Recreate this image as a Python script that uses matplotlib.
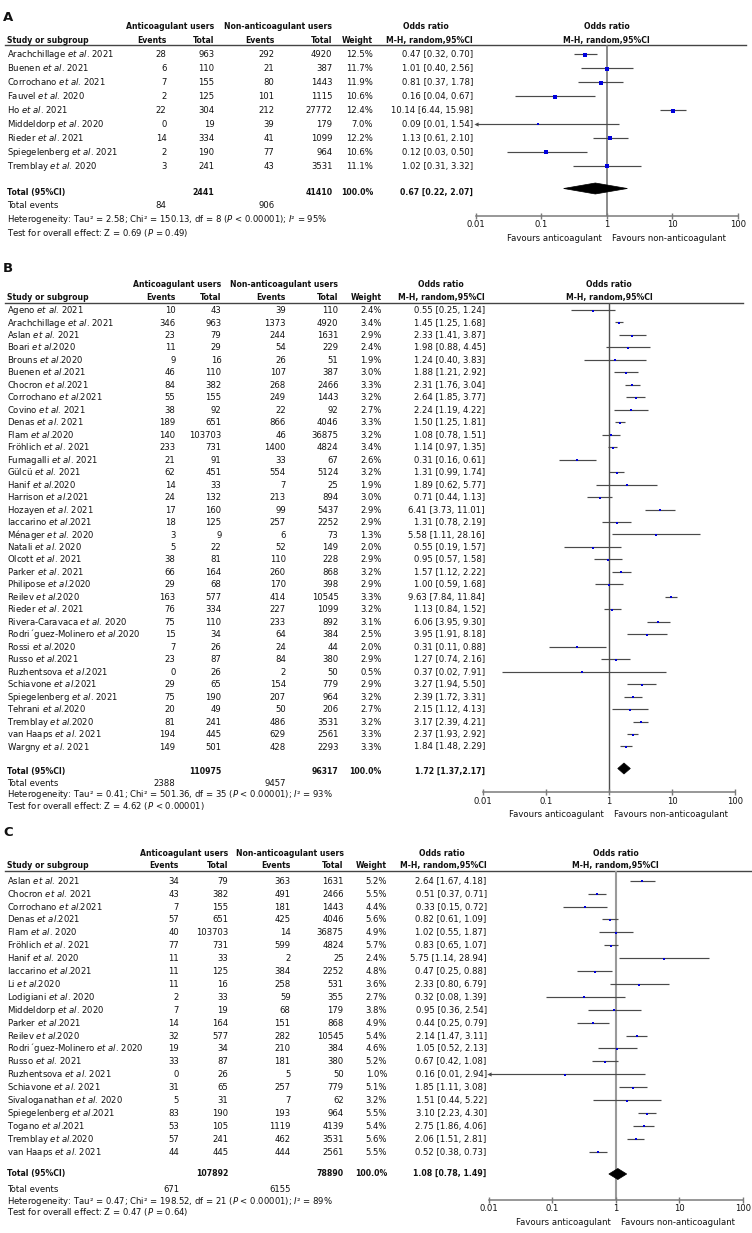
import numpy as np
import matplotlib
matplotlib.use("Agg")
import matplotlib.pyplot as plt
from matplotlib.patches import Polygon
from matplotlib.ticker import NullLocator

plt.rcParams['font.family'] = ['DejaVu Sans']
plt.rcParams['mathtext.fontset'] = 'dejavusans'

W, H = 752, 1233
FS = 6.1
FSB = 5.6
GRAY = '#7a7a7a'
LINE = '#4a4a4a'
BLUE = '#0000dd'

# ---------------- Panel A data ----------------
A_study = ["Arachchillage et al. 2021", "Buenen et al. 2021", "Corrochano et al. 2021",
           "Fauvel et al. 2020", "Ho et al. 2021", "Middeldorp et al. 2020",
           "Rieder et al. 2021", "Spiegelenberg et al. 2021", "Tremblay et al. 2020"]
A_ev1 = [28, 6, 7, 2, 22, 0, 14, 2, 3]
A_tot1 = [963, 110, 155, 125, 304, 19, 334, 190, 241]
A_ev2 = [292, 21, 80, 101, 212, 39, 41, 77, 43]
A_tot2 = [4920, 387, 1443, 1115, 27772, 179, 1099, 964, 3531]
A_weight = [12.5, 11.7, 11.9, 10.6, 12.4, 7.0, 12.2, 10.6, 11.1]
A_or = [0.47, 1.01, 0.81, 0.16, 10.14, 0.09, 1.13, 0.12, 1.02]
A_lo = [0.32, 0.40, 0.37, 0.04, 6.44, 0.01, 0.61, 0.03, 0.31]
A_hi = [0.70, 2.56, 1.78, 0.67, 15.98, 1.54, 2.10, 0.50, 3.32]
A_totals = [2441, 41410]
A_events = [84, 906]
A_pooled = [0.67, 0.22, 2.07]
A_pooled_txt = "0.67 [0.22, 2.07]"
A_het = ["2.58", "150.13", "8", "< 0.00001", "95%"]
A_test = ["0.69", "= 0.49"]

# ---------------- Panel B data ----------------
B_study = ["Ageno et al. 2021", "Arachchillage et al. 2021", "Aslan et al. 2021", "Boari et al.2020",
           "Brouns et al.2020", "Buenen et al.2021", "Chocron et al.2021", "Corrochano et al.2021",
           "Covino et al. 2021", "Denas et al. 2021", "Flam et al.2020", "Fröhlich et al. 2021",
           "Fumagalli et al. 2021", "Gülcü et al. 2021", "Hanif et al.2020", "Harrison et al.2021",
           "Hozayen et al. 2021", "Iaccarino et al.2021", "Ménager et al. 2020", "Natali et al. 2020",
           "Olcott et al. 2021", "Parker et al. 2021", "Philipose et al.2020", "Reilev et al.2020",
           "Rieder et al. 2021", "Rivera-Caravaca et al. 2020", "Rodri´guez-Molinero et al.2020",
           "Rossi et al.2020", "Russo et al.2021", "Ruzhentsova et al.2021", "Schiavone et al.2021",
           "Spiegelenberg et al. 2021", "Tehrani et al.2020", "Tremblay et al.2020",
           "van Haaps et al. 2021", "Wargny et al. 2021"]
B_ev1 = [10, 346, 23, 11, 9, 46, 84, 55, 38, 189, 140, 233, 21, 62, 14, 24, 17, 18, 3, 5,
         38, 66, 29, 163, 76, 75, 15, 7, 23, 0, 29, 75, 20, 81, 194, 149]
B_tot1 = [43, 963, 79, 29, 16, 110, 382, 155, 92, 651, 103703, 731, 91, 451, 33, 132, 160, 125,
          9, 22, 81, 164, 68, 577, 334, 110, 34, 26, 87, 26, 65, 190, 49, 241, 445, 501]
B_ev2 = [39, 1373, 244, 54, 26, 107, 268, 249, 22, 866, 46, 1400, 33, 554, 7, 213, 99, 257, 6,
         52, 110, 260, 170, 414, 227, 233, 64, 24, 84, 2, 154, 207, 50, 486, 629, 428]
B_tot2 = [110, 4920, 1631, 229, 51, 387, 2466, 1443, 92, 4046, 36875, 4824, 67, 5124, 25, 894,
          5437, 2252, 73, 149, 228, 868, 398, 10545, 1099, 892, 384, 44, 380, 50, 779, 964, 206,
          3531, 2561, 2293]
B_weight = [2.4, 3.4, 2.9, 2.4, 1.9, 3.0, 3.3, 3.2, 2.7, 3.3, 3.2, 3.4, 2.6, 3.2, 1.9, 3.0, 2.9,
            2.9, 1.3, 2.0, 2.9, 3.2, 2.9, 3.3, 3.2, 3.1, 2.5, 2.0, 2.9, 0.5, 2.9, 3.2, 2.7, 3.2,
            3.3, 3.3]
B_or = [0.55, 1.45, 2.33, 1.98, 1.24, 1.88, 2.31, 2.64, 2.24, 1.50, 1.08, 1.14, 0.31, 1.31, 1.89,
        0.71, 6.41, 1.31, 5.58, 0.55, 0.95, 1.57, 1.00, 9.63, 1.13, 6.06, 3.95, 0.31, 1.27, 0.37,
        3.27, 2.39, 2.15, 3.17, 2.37, 1.84]
B_lo = [0.25, 1.25, 1.41, 0.88, 0.40, 1.21, 1.76, 1.85, 1.19, 1.25, 0.78, 0.97, 0.16, 0.99, 0.62,
        0.44, 3.73, 0.78, 1.11, 0.19, 0.57, 1.12, 0.59, 7.84, 0.84, 3.95, 1.91, 0.11, 0.74, 0.02,
        1.94, 1.72, 1.12, 2.39, 1.93, 1.48]
B_hi = [1.24, 1.68, 3.87, 4.45, 3.83, 2.92, 3.04, 3.77, 4.22, 1.81, 1.51, 1.35, 0.61, 1.74, 5.77,
        1.13, 11.01, 2.19, 28.16, 1.57, 1.58, 2.22, 1.68, 11.84, 1.52, 9.30, 8.18, 0.88, 2.16,
        7.91, 5.50, 3.31, 4.13, 4.21, 2.92, 2.29]
B_totals = [110975, 96317]
B_events = [2388, 9457]
B_pooled = [1.72, 1.37, 2.17]
B_pooled_txt = "1.72 [1.37,2.17]"
B_het = ["0.41", "501.36", "35", "< 0.00001", "93%"]
B_test = ["4.62", "< 0.00001"]

# ---------------- Panel C data ----------------
C_study = ["Aslan et al. 2021", "Chocron et al. 2021", "Corrochano et al.2021", "Denas et al.2021",
           "Flam et al. 2020", "Fröhlich et al. 2021", "Hanif et al. 2020", "Iaccarino et al.2021",
           "Li et al.2020", "Lodigiani et al. 2020", "Middeldorp et al. 2020", "Parker et al.2021",
           "Reilev et al.2020", "Rodri´guez-Molinero et al. 2020", "Russo et al. 2021",
           "Ruzhentsova et al. 2021", "Schiavone et al. 2021", "Sivaloganathan et al. 2020",
           "Spiegelenberg et al.2021", "Togano et al.2021", "Tremblay et al.2020",
           "van Haaps et al. 2021"]
C_ev1 = [34, 43, 7, 57, 40, 77, 11, 11, 11, 2, 7, 14, 32, 19, 33, 0, 31, 5, 83, 53, 57, 44]
C_tot1 = [79, 382, 155, 651, 103703, 731, 33, 125, 16, 33, 19, 164, 577, 34, 87, 26, 65, 31,
          190, 105, 241, 445]
C_ev2 = [363, 491, 181, 425, 14, 599, 2, 384, 258, 59, 68, 151, 282, 210, 181, 5, 257, 7, 193,
         1119, 462, 444]
C_tot2 = [1631, 2466, 1443, 4046, 36875, 4824, 25, 2252, 531, 355, 179, 868, 10545, 384, 380,
          50, 779, 62, 964, 4139, 3531, 2561]
C_weight = [5.2, 5.5, 4.4, 5.6, 4.9, 5.7, 2.4, 4.8, 3.6, 2.7, 3.8, 4.9, 5.4, 4.6, 5.2, 1.0, 5.1,
            3.2, 5.5, 5.4, 5.6, 5.5]
C_or = [2.64, 0.51, 0.33, 0.82, 1.02, 0.83, 5.75, 0.47, 2.33, 0.32, 0.95, 0.44, 2.14, 1.05, 0.67,
        0.16, 1.85, 1.51, 3.10, 2.75, 2.06, 0.52]
C_lo = [1.67, 0.37, 0.15, 0.61, 0.55, 0.65, 1.14, 0.25, 0.80, 0.08, 0.36, 0.25, 1.47, 0.52, 0.42,
        0.01, 1.11, 0.44, 2.23, 1.86, 1.51, 0.38]
C_hi = [4.18, 0.71, 0.72, 1.09, 1.87, 1.07, 28.94, 0.88, 6.79, 1.39, 2.54, 0.79, 3.11, 2.13, 1.08,
        2.94, 3.08, 5.22, 4.30, 4.06, 2.81, 0.73]
C_totals = [107892, 78890]
C_events = [671, 6155]
C_pooled = [1.08, 0.78, 1.49]
C_pooled_txt = "1.08 [0.78, 1.49]"
C_het = ["0.47", "198.52", "21", "< 0.00001", "89%"]
C_test = ["0.47", "= 0.64"]

# ---------------- layout (pixels) ----------------
LA = dict(letter='A', lab_y=16, h1=26, h2=40, rule=45, row0=54.3, dy=13.9, tot_y=192,
          tev_y=205, het_y=219, test_y=233, c_ev1=166.5, c_tot1=214.5, c_ev2=274.5,
          c_tot2=332.5, c_w=373, c_or=473, or_hdr=420, fx0=475.7, fx1=737.7, axis_y=216,
          rule_x1=746, dia_y=188.5, vcol='#777777', vlw=1.2)
LB = dict(letter='B', lab_y=267, h1=284.5, h2=297, rule=302.5, row0=310, dy=12.47, tot_y=771.5,
          tev_y=783, het_y=794.3, test_y=805.7, c_ev1=175.5, c_tot1=221.5, c_ev2=286,
          c_tot2=338.5, c_w=381.7, c_or=485, or_hdr=435, fx0=483.3, fx1=735, axis_y=792.3,
          rule_x1=743, dia_y=768.5, vcol='#505050', vlw=1.0)
LC = dict(letter='C', lab_y=831.7, h1=853, h2=865.5, rule=871, row0=880.7, dy=12.9,
          tot_y=1173.5, tev_y=1189, het_y=1200.7, test_y=1212.3, c_ev1=179, c_tot1=228.3,
          c_ev2=290.7, c_tot2=343.7, c_w=387.2, c_or=486.7, or_hdr=436, fx0=488.7, fx1=742.7,
          axis_y=1200, rule_x1=751, dia_y=1174, vcol='#9a9a9a', vlw=1.5)

fig = plt.figure(figsize=(W / 100, H / 100), dpi=100)
fig.patch.set_facecolor('white')
bg = fig.add_axes([0, 0, 1, 1])
bg.set_xlim(0, W)
bg.set_ylim(H, 0)
bg.axis('off')

NAME_X = 7


def T(x, y, s, ha='left', bold=False, size=None):
    if size is None:
        size = FSB if bold else FS
    bg.text(x, y + 0.36 * size * 100 / 72, s, ha=ha, va='baseline', fontsize=size,
            fontweight='bold' if bold else 'normal', color='#111111')


def fmt_name(s):
    return s.replace("et al.", r"$\mathit{et\ al}$.")


def draw_panel(L, study, ev1, tot1, ev2, tot2, weight, orv, lo, hi, totals, events, pooled,
               pooled_txt, het, test):
    T(3, L['lab_y'], L['letter'], bold=True, size=9.5)
    # header
    T(L['c_tot1'], L['h1'], "Anticoagulant users", ha='right', bold=True)
    T(L['c_tot2'], L['h1'], "Non-anticoagulant users", ha='right', bold=True)
    T(L['or_hdr'] + 6, L['h1'], "Odds ratio", ha='center', bold=True)
    T(NAME_X, L['h2'], "Study or subgroup", bold=True)
    T(L['c_ev1'], L['h2'], "Events", ha='right', bold=True)
    T(L['c_tot1'], L['h2'], "Total", ha='right', bold=True)
    T(L['c_ev2'], L['h2'], "Events", ha='right', bold=True)
    T(L['c_tot2'], L['h2'], "Total", ha='right', bold=True)
    T(L['c_w'], L['h2'], "Weight", ha='right', bold=True)
    T(L['c_or'], L['h2'], "M-H, random,95%CI", ha='right', bold=True)
    bg.plot([5, L['rule_x1']], [L['rule'], L['rule']], color='#444444', lw=1.0)

    ys = L['row0'] + L['dy'] * np.arange(len(study))
    for i, y in enumerate(ys):
        T(NAME_X, y, fmt_name(study[i]))
        T(L['c_ev1'], y, str(ev1[i]), ha='right')
        T(L['c_tot1'], y, str(tot1[i]), ha='right')
        T(L['c_ev2'], y, str(ev2[i]), ha='right')
        T(L['c_tot2'], y, str(tot2[i]), ha='right')
        T(L['c_w'], y, f"{weight[i]:.1f}%", ha='right')
        T(L['c_or'], y, f"{orv[i]:.2f} [{lo[i]:.2f}, {hi[i]:.2f}]", ha='right')

    T(NAME_X, L['tot_y'], "Total (95%CI)", bold=True)
    T(L['c_tot1'], L['tot_y'], str(totals[0]), ha='right', bold=True)
    T(L['c_tot2'], L['tot_y'], str(totals[1]), ha='right', bold=True)
    T(L['c_w'], L['tot_y'], "100.0%", ha='right', bold=True)
    T(L['c_or'], L['tot_y'], pooled_txt, ha='right', bold=True)
    T(NAME_X, L['tev_y'], "Total events")
    T(L['c_ev1'], L['tev_y'], str(events[0]), ha='right')
    T(L['c_ev2'], L['tev_y'], str(events[1]), ha='right')
    T(NAME_X, L['het_y'],
      f"Heterogeneity: Tau² = {het[0]}; Chi² = {het[1]}, df = {het[2]} "
      f"($\\mathit{{P}}$ {het[3]}); $\\mathit{{I}}$² = {het[4]}")
    T(NAME_X, L['test_y'], f"Test for overall effect: Z = {test[0]} ($\\mathit{{P}}$ {test[1]})")

    # forest axes
    fx = fig.add_axes([L['fx0'] / W, 1 - L['axis_y'] / H, (L['fx1'] - L['fx0']) / W,
                       (L['axis_y'] - L['rule']) / H])
    fx.set_xscale('log')
    fx.set_xlim(0.01, 100)
    fx.set_ylim(L['axis_y'], L['rule'])
    fx.patch.set_alpha(0)
    for s in ['top', 'left', 'right']:
        fx.spines[s].set_visible(False)
    fx.spines['bottom'].set_color(GRAY)
    fx.spines['bottom'].set_linewidth(1.1)
    fx.set_yticks([])
    fx.set_xticks([0.01, 0.1, 1, 10, 100])
    fx.set_xticklabels(['0.01', '0.1', '1', '10', '100'])
    fx.xaxis.set_minor_locator(NullLocator())
    fx.tick_params(axis='x', direction='inout', length=4, width=1.0, color=GRAY,
                   labelsize=FS, pad=1.2, labelcolor='#111111')
    fx.axvline(1, color=L['vcol'], lw=L['vlw'], zorder=1)
    xmin = fx.get_xlim()[0]
    for o, l, h, w, y in zip(orv, lo, hi, weight, ys):
        fx.plot([max(l, xmin), h], [y, y], color=LINE, lw=0.85, solid_capstyle='butt',
                zorder=2, clip_on=False)
        if l <= xmin:
            fx.plot([xmin], [y], marker='<', ms=3, color=LINE, mew=0, clip_on=False, zorder=2)
        fx.plot([o], [y + 0.6], marker='s', ms=0.72 * (2.2 + 0.1 * w), color=BLUE, mew=0,
                zorder=3)
    p, pl, ph = pooled
    dh = 5.5
    dia = Polygon([(pl, L['dia_y']), (p, L['dia_y'] - dh), (ph, L['dia_y']), (p, L['dia_y'] + dh)],
                  closed=True, facecolor='black', edgecolor='black', lw=0.5, zorder=3)
    fx.add_patch(dia)
    x1 = L['fx0'] + 0.5 * (L['fx1'] - L['fx0'])
    T(x1, L['h1'], "Odds ratio", ha='center', bold=True)
    T(x1, L['h2'], "M-H, random,95%CI", ha='center', bold=True)
    T(x1 - 5, L['axis_y'] + 22, "Favours anticoagulant", ha='right')
    T(x1 + 5, L['axis_y'] + 22, "Favours non-anticoagulant", ha='left')


draw_panel(LA, A_study, A_ev1, A_tot1, A_ev2, A_tot2, A_weight, A_or, A_lo, A_hi, A_totals,
           A_events, A_pooled, A_pooled_txt, A_het, A_test)
draw_panel(LB, B_study, B_ev1, B_tot1, B_ev2, B_tot2, B_weight, B_or, B_lo, B_hi, B_totals,
           B_events, B_pooled, B_pooled_txt, B_het, B_test)
draw_panel(LC, C_study, C_ev1, C_tot1, C_ev2, C_tot2, C_weight, C_or, C_lo, C_hi, C_totals,
           C_events, C_pooled, C_pooled_txt, C_het, C_test)

fig.savefig("out.png", dpi=100, facecolor='white')
